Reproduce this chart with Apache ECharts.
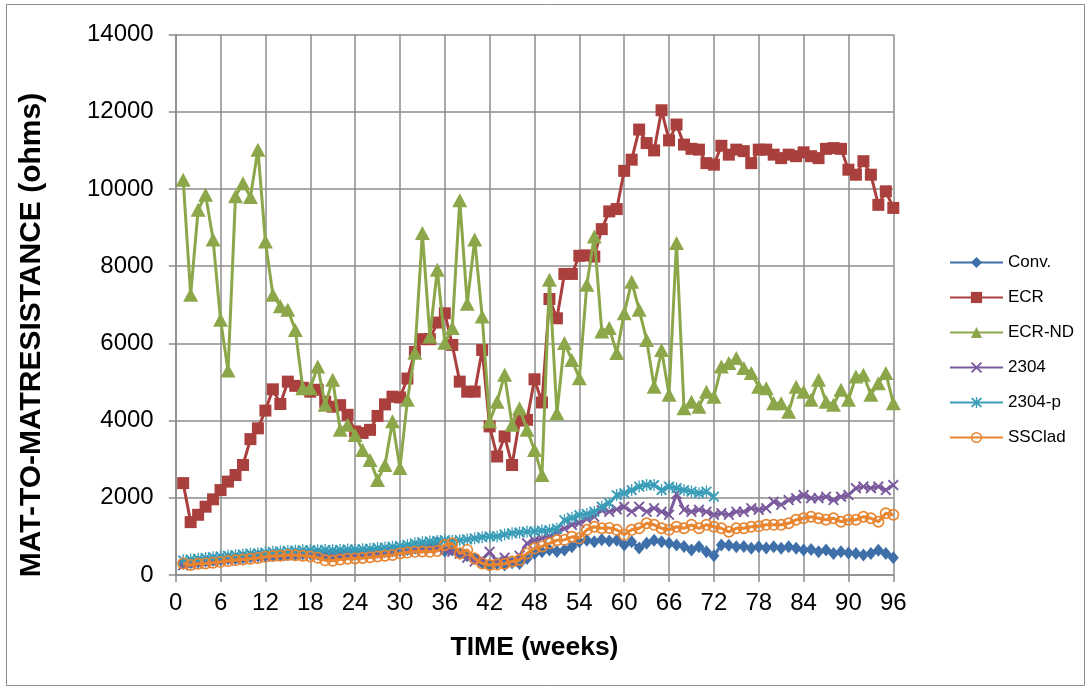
<!DOCTYPE html>
<html><head><meta charset="utf-8">
<script src="https://cdn.jsdelivr.net/npm/echarts@6/dist/echarts.min.js"></script>
<style>html,body{margin:0;padding:0;background:#fff}#c{width:1091px;height:690px}</style>
</head><body><div id="c"></div>
<script>
const weeks = [1,2,3,4,5,6,7,8,9,10,11,12,13,14,15,16,17,18,19,20,21,22,23,24,25,26,27,28,29,30,31,32,33,34,35,36,37,38,39,40,41,42,43,44,45,46,47,48,49,50,51,52,53,54,55,56,57,58,59,60,61,62,63,64,65,66,67,68,69,70,71,72,73,74,75,76,77,78,79,80,81,82,83,84,85,86,87,88,89,90,91,92,93,94,95,96];
const seriesNames = ['Conv.','ECR','ECR-ND','2304','2304-p','SSClad'];
const conv = [300,320,340,360,380,400,420,430,450,470,490,500,510,520,530,540,550,550,540,530,540,540,550,550,560,570,580,600,620,640,660,690,720,760,850,620,650,560,500,420,320,260,300,260,320,300,430,560,600,650,610,650,730,860,900,860,910,880,900,780,860,700,820,900,860,820,780,740,650,730,600,500,780,770,730,740,690,730,700,730,690,730,690,650,660,600,650,560,600,570,560,520,560,640,560,450];
const ecr = [2380,1370,1560,1770,1960,2200,2420,2590,2850,3520,3800,4260,4810,4430,5010,4900,4850,4750,4800,4490,4360,4400,4150,3720,3680,3760,4120,4420,4620,4600,5090,5780,6110,6110,6540,6780,5960,5010,4750,4750,5830,3850,3070,3590,2850,4000,4020,5070,4470,7150,6650,7800,7800,8270,8280,8250,8960,9420,9480,10470,10760,11540,11190,11000,12040,11260,11670,11150,11040,11020,10670,10630,11120,10890,11020,10980,10670,11020,11020,10890,10800,10890,10850,10950,10850,10800,11040,11060,11040,10500,10370,10720,10370,9590,9940,9510];
const ecrNd = [10240,7260,9460,9850,8690,6610,5300,9810,10150,9790,11020,8640,7260,6960,6870,6350,4840,4840,5400,4410,5060,3760,3890,3630,3240,2980,2460,2850,3980,2770,4540,5760,8860,6180,7910,6020,6400,9710,7030,8690,6700,3980,4490,5190,3890,4320,3760,3240,2590,7650,4190,6010,5570,5100,7520,8770,6310,6400,5750,6780,7600,6870,6090,4880,5830,4670,8600,4320,4490,4360,4750,4620,5400,5490,5620,5360,5230,4880,4840,4450,4450,4230,4880,4750,4540,5060,4490,4410,4800,4540,5140,5190,4670,4970,5230,4450];
const s2304 = [250,280,300,320,340,360,380,400,420,440,460,480,490,500,510,520,520,520,510,500,500,510,520,520,530,540,550,560,580,600,620,640,660,680,700,650,600,550,450,350,400,600,350,450,350,500,820,900,950,1000,1100,1200,1300,1350,1450,1510,1680,1640,1700,1770,1640,1770,1640,1730,1640,1560,2100,1690,1640,1690,1640,1560,1600,1560,1640,1640,1730,1690,1730,1900,1820,1940,1990,2070,1990,1990,2030,1940,2030,2070,2250,2290,2250,2290,2200,2330];
const s2304p = [380,400,420,440,460,480,500,510,530,550,560,580,600,610,620,630,640,640,640,650,640,650,660,660,670,680,700,710,730,750,780,820,850,870,880,900,880,900,920,950,980,1000,1000,1050,1080,1100,1120,1130,1150,1160,1200,1420,1480,1550,1580,1640,1770,1860,2070,2120,2200,2290,2330,2330,2200,2290,2250,2200,2160,2120,2160,2030];
const ssclad = [300,260,290,300,320,340,360,380,400,420,440,470,490,500,520,510,500,480,450,380,370,400,420,430,440,460,480,500,520,560,580,600,610,600,620,780,820,560,650,430,300,260,270,290,350,390,560,690,740,820,900,910,990,950,1170,1250,1210,1220,1170,1040,1170,1210,1340,1300,1210,1170,1250,1210,1300,1210,1300,1250,1210,1120,1210,1210,1250,1260,1300,1300,1300,1340,1430,1470,1510,1470,1430,1470,1380,1430,1430,1510,1470,1380,1600,1560];
const xTicks = {min:0, max:96, interval:6};
const yTicks = {min:0, max:14000, interval:2000};

const colors = ['#3F6FA8','#AA403D','#8CA74A','#7A5A9C','#3A9DB8','#E88531'];
const xSym = 'path://M0,1.2L1.2,0L5,3.8L8.8,0L10,1.2L6.2,5L10,8.8L8.8,10L5,6.2L1.2,10L0,8.8L3.8,5Z';
const starSym = 'path://M0,1.2L1.2,0L5,3.8L8.8,0L10,1.2L6.2,5L10,8.8L8.8,10L5,6.2L1.2,10L0,8.8L3.8,5Z M4.4,-0.5L5.6,-0.5L5.6,10.5L4.4,10.5Z';
const ringSym = 'path://M5,0A5,5,0,1,1,4.99,0ZM5,1.4A3.6,3.6,0,1,0,5.01,1.4Z';
const pts = v => v.map((y,i)=>[weeks[i], y]);
const datasets = [conv, ecr, ecrNd, s2304, s2304p, ssclad];
const symbols = ['diamond','rect','triangle',xSym,starSym,ringSym];
const sizes = [[11,13],12,[15,14],11,[11,12],12];

const FONT = 'Liberation Sans, Arial, sans-serif';
const chart = echarts.init(document.getElementById('c'));
chart.setOption({
  animation:false,
  backgroundColor:'#fff',
  color: colors,
  grid:{left:175.7, right:1091-893.3, top:34.6, bottom:690-575, containLabel:false},
  legend:{
    orient:'vertical', left:949, top:254, padding:0,
    itemWidth:53, itemHeight:14, itemGap:21-3,
    textStyle:{fontFamily:FONT, fontSize:17, color:'#000'},
    data: seriesNames
  },
  xAxis:{
    type:'value', min:xTicks.min, max:xTicks.max, interval:xTicks.interval,
    name:'TIME (weeks)', nameLocation:'middle', nameGap:59,
    nameTextStyle:{fontFamily:FONT, fontSize:26.5, fontWeight:'bold', color:'#000'},
    axisLine:{show:true, lineStyle:{color:'#8c8c8c', width:1.5}},
    axisTick:{show:true, length:7, lineStyle:{color:'#8c8c8c', width:1.5}},
    axisLabel:{fontFamily:FONT, fontSize:24, color:'#000', margin:16},
    splitLine:{show:true, lineStyle:{color:'#8c8c8c', width:1.5}}
  },
  yAxis:{
    type:'value', min:yTicks.min, max:yTicks.max, interval:yTicks.interval,
    axisLine:{show:true, lineStyle:{color:'#8c8c8c', width:1.5}},
    axisTick:{show:true, length:7, lineStyle:{color:'#8c8c8c', width:1.5}},
    axisLabel:{fontFamily:FONT, fontSize:24, color:'#000', margin:22, formatter:v=>String(v)},
    splitLine:{show:true, lineStyle:{color:'#8c8c8c', width:1.5}}
  },
  graphic:[
    {type:'rect', shape:{x:6.5, y:4.5, width:1078, height:681}, style:{fill:'none', stroke:'#8c8c8c', lineWidth:1}, silent:true, z:-1},
    {type:'text', x:32, y:335, rotation:Math.PI/2,
     style:{text:'MAT-TO-MATRESISTANCE (ohms)', fontFamily:FONT, fontSize:30, fontWeight:'bold', fill:'#000', align:'center', verticalAlign:'middle'}}
  ],
  series: datasets.map((d,i)=>({
    name: seriesNames[i], type:'line', data: pts(d),
    symbol: symbols[i], symbolSize: sizes[i], showAllSymbol:true,
    lineStyle:{color:colors[i], width:3},
    itemStyle:{color:colors[i]},
    emphasis:{disabled:true},
    z: 2+i
  }))
});
</script></body></html>
